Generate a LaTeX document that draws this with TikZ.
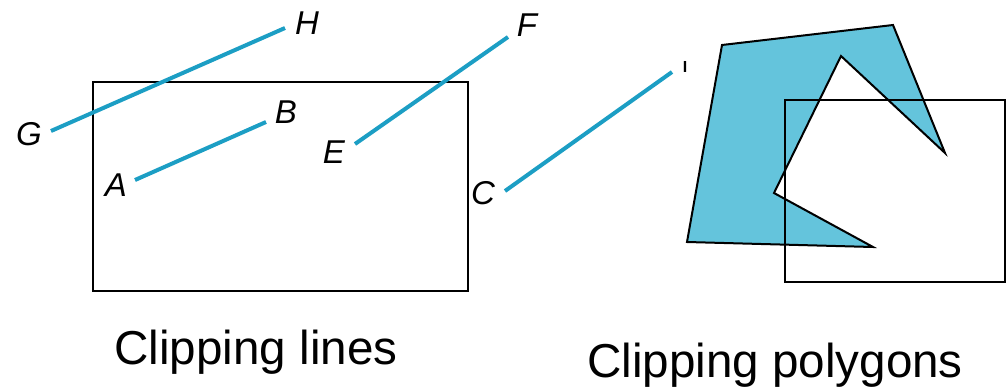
\documentclass[tikz,border=0pt]{standalone}
\usepackage{fontspec}
\setmainfont{Liberation Sans}
\usetikzlibrary{positioning}
\definecolor{segblue}{RGB}{28,158,196}
\definecolor{polyblue}{RGB}{100,196,220}
\begin{document}
\begin{tikzpicture}[x=1pt, y=-1pt,
  segment/.style={segblue, line width=4pt},
  window/.style={black, line width=2pt},
  ptlabel/.style={font=\fontsize{33}{33}\selectfont\itshape, inner sep=0pt},
  caption/.style={font=\fontsize{47.6}{50}\selectfont, anchor=base, inner sep=0pt}]
  \useasboundingbox (0,0) rectangle (1006,386);

  % Clipping window (lines)
  \draw[window] (93,82) rectangle (468,291);

  % Segment end points
  \coordinate (g) at (51,131);  \coordinate (h) at (285,28);
  \coordinate (a) at (135,180); \coordinate (b) at (266,122);
  \coordinate (e) at (355,144); \coordinate (f) at (508,37);
  \coordinate (c) at (505,191); \coordinate (d) at (672,72);

  % Segments
  \draw[segment] (g) -- (h);
  \draw[segment] (a) -- (b);
  \draw[segment] (e) -- (f);
  \draw[segment] (c) -- (d);

  % Labels
  \node[ptlabel] (lblG) at (29,134) {G};
  \node[ptlabel] (lblH) at (307,23) {H};
  \node[ptlabel] (lblA) at (116,185) {A};
  \node[ptlabel] (lblB) at (286,112) {B};
  \node[ptlabel] (lblE) at (334,152) {E};
  \node[ptlabel] (lblF) at (527,25) {F};
  \node[ptlabel] (lblC) at (483,193) {C};
  \node[ptlabel, font=\fontsize{16}{16}\selectfont\bfseries] (lblD) at (685,67) {I};

  % Polygon
  \draw[polyblue, fill=polyblue] (722,45) -- (893,25) -- (945,153) -- (841,56)
    -- (774,193) -- (873,247) -- (687,242) -- cycle;
  \draw[black, line width=2pt, line join=miter] (722,45) -- (893,25) -- (945,153) -- (841,56)
    -- (774,193) -- (873,247) -- (687,242) -- cycle;

  % Clipping window (polygons)
  \draw[window] (785,100) rectangle (1005,282);

  % Captions
  \node[caption] (capLines) at (256,364) {Clipping lines};
  \node[caption] (capPoly) at (775,377) {Clipping polygons};
\end{tikzpicture}
\end{document}
